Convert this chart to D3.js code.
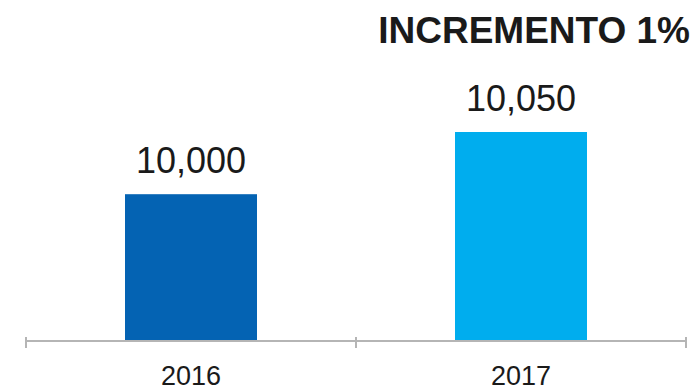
<!DOCTYPE html>
<html>
<head>
<meta charset="utf-8">
<script src="https://cdn.jsdelivr.net/npm/d3@7"></script>
<style>
  body { margin: 0; background: #fff; }
  svg text { font-family: "Liberation Sans", Arial, sans-serif; fill: #1a1a1a; }
</style>
</head>
<body>
<svg id="chart" width="700" height="392"></svg>
<script>
// datos
const years = ['2016', '2017'];
const values = [10000, 10050];
const title = 'INCREMENTO 1%';

// colores de las barras
const barColors = ['#0463b3', '#00adee'];

const svg = d3.select('#chart');
const axisY = 341;

const x = d3.scaleBand()
  .domain(years)
  .range([26, 686])
  .paddingInner(0.6)
  .paddingOuter(0.3);

// el eje no empieza en cero
const y = d3.scaleLinear()
  .domain([9882, 10050])
  .range([axisY, 132]);

// barras
svg.selectAll('.bar')
  .data(values)
  .join('rect')
    .attr('class', 'bar')
    .attr('x', (d, i) => x(years[i]))
    .attr('y', d => y(d))
    .attr('width', x.bandwidth())
    .attr('height', d => axisY - y(d))
    .attr('fill', (d, i) => barColors[i]);

// etiquetas de valor
svg.selectAll('.val')
  .data(values)
  .join('text')
    .attr('class', 'val')
    .attr('x', (d, i) => x(years[i]) + x.bandwidth() / 2)
    .attr('y', d => y(d) - 21)
    .attr('text-anchor', 'middle')
    .style('font-size', '36px')
    .text(d => d3.format(',')(d));

// eje x
const axis = svg.append('g');
axis.append('line')
  .attr('x1', x.range()[0]).attr('x2', x.range()[1])
  .attr('y1', axisY).attr('y2', axisY)
  .attr('stroke', '#b5b5b5').attr('stroke-width', 2);

const bounds = [x.range()[0], x(years[1]) - x.step() * x.paddingInner() / 2, x.range()[1]];
axis.selectAll('.tick')
  .data(bounds)
  .join('line')
    .attr('x1', d => d).attr('x2', d => d)
    .attr('y1', axisY - 4).attr('y2', axisY + 7)
    .attr('stroke', '#b5b5b5').attr('stroke-width', 2);

axis.selectAll('.lbl')
  .data(years)
  .join('text')
    .attr('x', d => x(d) + x.bandwidth() / 2)
    .attr('y', 385)
    .attr('text-anchor', 'middle')
    .style('font-size', '27px')
    .text(d => d);

// titulo
svg.append('text')
  .attr('x', 690)
  .attr('y', 43)
  .attr('text-anchor', 'end')
  .style('font-size', '37px')
  .style('font-weight', 'bold')
  .text(title);
</script>
</body>
</html>
